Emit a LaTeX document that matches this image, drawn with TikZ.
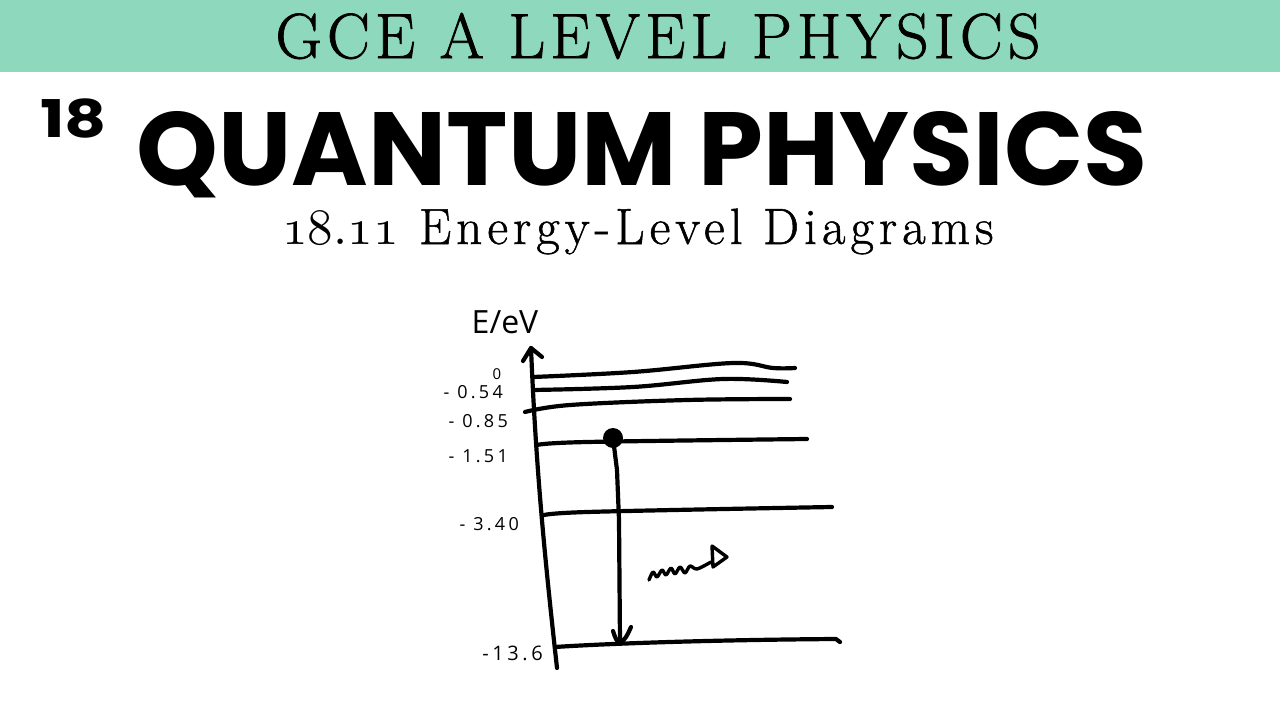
\documentclass[tikz,border=0pt]{standalone}
\usepackage{fontspec}
\usepackage{graphicx}
\newfontfamily\titlefont{Poppins}
\newfontfamily\handfont[LetterSpace=18]{Open Sans}
\newfontfamily\handfontE{Open Sans}
\newfontfamily\headfont[LetterSpace=8,FakeBold=1.2]{Latin Modern Roman}
\newfontfamily\subfont[LetterSpace=10,FakeBold=1]{Latin Modern Roman}
\definecolor{band}{RGB}{142,216,190}
\begin{document}
\begin{tikzpicture}[x=1pt,y=-1pt,
  level/.style={line width=4.2pt,line cap=round,line join=round},
  lab/.style={font=\handfont\fontsize{18}{18}\selectfont,inner sep=0pt}]
\useasboundingbox (0,0) rectangle (1280,720);
\fill[band] (0,0) rectangle (1280,72);
\node[inner sep=0pt] (head) at (658,36) {\headfont\fontsize{64}{64}\selectfont GCE A LEVEL PHYSICS};
\node[inner sep=0pt,anchor=base west] (num) at (40,137) {\scalebox{1.25}[1]{\titlefont\bfseries\fontsize{52}{52}\selectfont 18}};
\node[inner sep=0pt,anchor=base] (title) at (642,185) {\titlefont\bfseries\fontsize{104}{104}\selectfont QUANTUM PHYSICS};
\node[inner sep=0pt,anchor=base] (sub) at (638,244) {\subfont\fontsize{51}{51}\selectfont \scalebox{5.1}{\usefont{OML}{cmm}{m}{it}\fontsize{10}{10}\selectfont 18\char58 11} Energy-Level Diagrams};

% axis
\coordinate (atop) at (531,348);
\coordinate (abot) at (557,668);
\draw[level] (atop) .. controls (536,470) and (545,560) .. (abot);
\draw[level] (523,361) -- (atop) -- (542,357);

% levels
\draw[level] plot[smooth,tension=0.6] coordinates {(533,377) (633,372) (733,363) (773,368) (795,368)};
\draw[level] plot[smooth,tension=0.6] coordinates {(533,390) (633,387) (723,379) (787,382)};
\draw[level] plot[smooth,tension=0.6] coordinates {(525,412) (570,405) (687,400) (790,399)};
\draw[level] plot[smooth,tension=0.6] coordinates {(537,445) (587,442) (807,439)};
\draw[level] plot[smooth,tension=0.6] coordinates {(542,516) (587,512) (832,507)};
\draw[level] (555,647) .. controls (600,644) and (700,640) .. (836,639) -- (840,642);

% electron and transition
\node[circle,fill=black,inner sep=0pt,minimum size=20pt] (dot) at (613,438) {};
\coordinate (tip) at (620,643);
\draw[level] (dot.center) -- (617,470) -- (619,520) -- (tip);
\draw[level] (613,631) .. controls (616,640) .. (tip) .. controls (626,638) .. (631,627);

% photon
\draw[line width=3.4pt,line cap=round,line join=round] plot[smooth,tension=0.5] coordinates {(649,580) (653,572) (657,577) (662,570) (666,575) (671,568) (675,574) (680,567) (685,573) (690,566) (697,569) (711,562)};
\draw[line width=3.4pt,line join=round] (712,546) -- (727,557) -- (713,567) -- cycle;

% labels
\node[inner sep=0pt,font=\handfontE\fontsize{32}{32}\selectfont] (elab) at (505,322) {E/eV};
\node[inner sep=0pt,font=\handfontE\fontsize{15}{15}\selectfont] (l0) at (497,374) {0};
\node[lab,anchor=east] (l1) at (503,392) {- 0.54};
\node[lab,anchor=east] (l2) at (508,421) {- 0.85};
\node[lab,anchor=east] (l3) at (508,456) {- 1.51};
\node[lab,anchor=east] (l4) at (519,524) {- 3.40};
\node[lab,anchor=east,font=\handfont\fontsize{20}{20}\selectfont] (l5) at (543,653) {-13.6};
\end{tikzpicture}
\end{document}
